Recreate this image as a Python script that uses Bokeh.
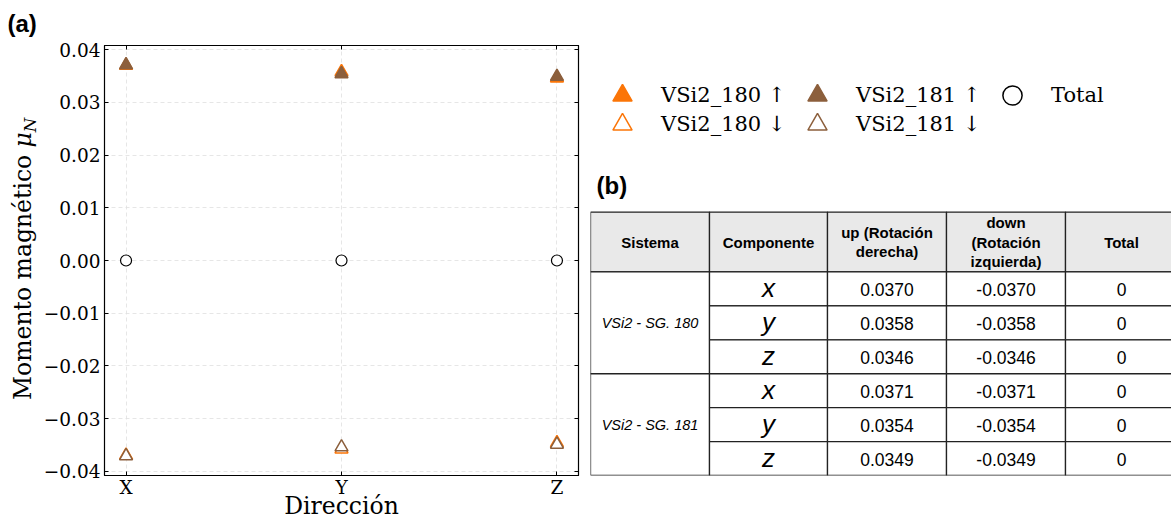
import math

from bokeh.core.properties import value
from bokeh.embed import file_html
from bokeh.layouts import row
from bokeh.models import (ColumnDataSource, CustomJSTickFormatter, FixedTicker,
                          Legend, LegendItem, LinearAxis, Range1d)
from bokeh.plotting import figure
from bokeh.resources import INLINE

# ---- data -------------------------------------------------------------
directions = ["X", "Y", "Z"]
components = ["x", "y", "z"]
systems = ["VSi2 - SG. 180", "VSi2 - SG. 181"]
up_180 = [0.0370, 0.0358, 0.0346]
down_180 = [-0.0370, -0.0358, -0.0346]
up_181 = [0.0371, 0.0354, 0.0349]
down_181 = [-0.0371, -0.0354, -0.0349]
total = [0.0, 0.0, 0.0]
y_ticks = [-0.04, -0.03, -0.02, -0.01, 0.0, 0.01, 0.02, 0.03, 0.04]
header = ["Sistema", "Componente", "up (Rotación\nderecha)",
          "down\n(Rotación\nizquierda)", "Total"]
legend_labels = ["VSi2_180 \u2191", "VSi2_180 \u2193",
                 "VSi2_181 \u2191", "VSi2_181 \u2193", "Total"]

# ---- style ------------------------------------------------------------
ORANGE = "#fb7507"
BROWN = "#8c5f3c"
SERIF = "DejaVu Serif"
SANS = "Liberation Sans"
H = 522
TOP, BOTTOM = 44, 47          # shared frame borders of the row
FT, FB = TOP, H - BOTTOM      # frame top / bottom in page pixels
LAB_W = 40                    # strip holding the y title and "(a)"
NAN = float("nan")


def blank_panel(width, x_end):
    """A figure whose frame maps data units straight onto page pixels."""
    f = figure(width=width, height=H, x_range=Range1d(0, x_end),
               y_range=Range1d(FB, FT), output_backend="svg",
               toolbar_location=None, min_border=0, min_border_top=TOP,
               min_border_bottom=BOTTOM, x_axis_location=None,
               y_axis_location=None)
    f.grid.visible = False
    f.outline_line_color = None
    return f


# ---- y-axis title and panel tag ---------------------------------------
lab = blank_panel(LAB_W, LAB_W)
lab.title.text = "(a)"
lab.title.align = "left"
lab.title.vertical_align = "middle"
lab.title.offset = 7
lab.title.text_font = SANS
lab.title.text_font_size = "24px"
lab.title.text_font_style = "bold"
lab.title.text_color = "black"
lab.title.standoff = 16
lab.text(x=[22], y=[153.5], text=["Momento magnético"], angle=math.pi / 2,
         text_align="right", text_baseline="middle", text_font=value(SERIF),
         text_font_size="23.5px", text_color="black")
lab.text(x=[22], y=[131], text=["μ"], angle=math.pi / 2,
         text_align="right", text_baseline="middle", text_font=value(SERIF),
         text_font_style="italic", text_font_size="23.5px", text_color="black")
lab.text(x=[30], y=[131], text=["N"], angle=math.pi / 2, text_align="left",
         text_baseline="middle", text_font=value(SERIF),
         text_font_style="italic", text_font_size="16.5px", text_color="black")

# ---- (a) scatter panel ------------------------------------------------
xs = list(range(len(directions)))
src = ColumnDataSource(dict(x=xs, up_180=up_180, down_180=down_180,
                            up_181=up_181, down_181=down_181, total=total))

p = figure(width=590 - LAB_W, height=H, x_range=Range1d(-0.1, 2.1),
           y_range=Range1d(-0.0408, 0.0408), output_backend="svg",
           toolbar_location=None, min_border_left=64, min_border_right=12,
           min_border_top=TOP, min_border_bottom=BOTTOM)
p.outline_line_color = "black"
p.outline_line_width = 1.2

p.xaxis.ticker = FixedTicker(ticks=xs, minor_ticks=[])
p.xaxis.major_label_overrides = {i: d for i, d in enumerate(directions)}
p.yaxis.ticker = FixedTicker(ticks=y_ticks, minor_ticks=[])
p.yaxis.formatter = CustomJSTickFormatter(
    code="const s = Math.abs(tick).toFixed(2); return (tick < -1e-9 ? '\\u2212' : '') + s;")

for ax in (p.xaxis[0], p.yaxis[0]):
    ax.major_tick_in = 4
    ax.major_tick_out = 0
    ax.minor_tick_line_color = None
    ax.axis_line_color = "black"
    ax.major_tick_line_color = "black"
    ax.major_label_text_font = SERIF
    ax.major_label_text_font_size = "18.5px"
    ax.major_label_text_color = "black"
    ax.axis_label_text_font = SERIF
    ax.axis_label_text_font_size = "23.5px"
    ax.axis_label_text_font_style = "normal"
    ax.axis_label_text_color = "black"

p.xaxis.major_label_standoff = 1
p.xaxis.axis_label = "Dirección"
p.xaxis.axis_label_standoff = -9
p.yaxis.major_label_standoff = 4

# mirrored inward ticks on the top and right edges
for loc, ticks in (("above", xs), ("right", y_ticks)):
    mirror = LinearAxis(ticker=FixedTicker(ticks=ticks, minor_ticks=[]),
                        formatter=CustomJSTickFormatter(code="return ''"),
                        major_label_standoff=0, major_tick_in=4,
                        major_tick_out=0, minor_tick_line_color=None,
                        axis_line_color="black")
    p.add_layout(mirror, loc)

p.xgrid.ticker = FixedTicker(ticks=xs, minor_ticks=[])
p.ygrid.ticker = FixedTicker(ticks=y_ticks, minor_ticks=[])
p.grid.grid_line_color = "#e0e0e0"
p.grid.grid_line_dash = "4 3"
p.grid.grid_line_width = 0.8

series = [
    ("up_180", dict(fill_color=ORANGE, line_color=ORANGE)),
    ("down_180", dict(fill_color="white", line_color=ORANGE)),
    ("up_181", dict(fill_color=BROWN, line_color=BROWN)),
    ("down_181", dict(fill_color="white", line_color=BROWN)),
]
for col, style in series:
    p.scatter("x", col, source=src, marker="triangle", size=13,
              line_width=1.5, **style)
p.scatter("x", "total", source=src, marker="circle", size=11,
          fill_color="white", line_color="black", line_width=1.2)

# ---- (b) legend + table panel ----------------------------------------
t = blank_panel(581, 581)

proxy_styles = [
    dict(marker="triangle", fill_color=ORANGE, line_color=ORANGE),
    dict(marker="triangle", fill_color="white", line_color=ORANGE),
    dict(marker="triangle", fill_color=BROWN, line_color=BROWN),
    dict(marker="triangle", fill_color="white", line_color=BROWN),
    dict(marker="circle", fill_color="white", line_color="black"),
]
items = []
for lab_text, st in zip(legend_labels, proxy_styles):
    # legend-only renderer: a single NaN point, so nothing lands on the canvas
    r = t.scatter(x=[NAN], y=[NAN], size=20, line_width=1.5, **st)
    items.append(LegendItem(label=lab_text, renderers=[r]))

# Legend keys are sized from the glyph box (40 % of it), so each legend row
# is its own horizontal legend with a tall, transparent box; the rows overlap.
glyph_box, row_pitch, first_row_y = 48, 29, 95
legend_rows = [[items[0], items[2], items[4]], [items[1], items[3]]]
for k, row_items in enumerate(legend_rows):
    row_top = first_row_y + k * row_pitch - glyph_box / 2
    leg = Legend(items=row_items, orientation="horizontal",
                 location=(8, FB - row_top - glyph_box),
                 padding=0, margin=0, spacing=0,
                 glyph_width=glyph_box, glyph_height=glyph_box,
                 label_height=row_pitch, label_width=132, label_standoff=15,
                 label_text_font=SERIF, label_text_font_size="21px",
                 label_text_color="black", border_line_color=None,
                 background_fill_alpha=0)
    t.add_layout(leg)

t.text(x=[6], y=[184], text=["(b)"], text_baseline="middle",
       text_font=value(SANS), text_font_style="bold",
       text_font_size="24px", text_color="black")

col_edges = [0, 119, 237, 356, 475, 590]
header_top, header_bottom, row_h = 211, 271, 34
centers = [(a + b) / 2 for a, b in zip(col_edges[:-1], col_edges[1:])]
centers[-1] = 531

# header cells
t.quad(left=col_edges[:-1], right=col_edges[1:], top=[header_top] * 5,
       bottom=[header_bottom] * 5, fill_color="#e9e9e9", line_color="#222222",
       line_width=1.3)
t.text(x=centers, y=[(header_top + header_bottom) / 2] * 5, text=header,
       text_align="center", text_baseline="middle", text_font=value(SANS),
       text_font_style="bold", text_font_size="15px", text_color="black",
       text_line_height=1.15)

ups = [up_180, up_181]
downs = [down_180, down_181]
cell_l, cell_r, cell_t, cell_b = [], [], [], []
val_x, val_y, val_t = [], [], []
comp_x, comp_y, comp_t = [], [], []
sys_y = []
for g, name in enumerate(systems):
    g_top = header_bottom + g * 3 * row_h
    cell_l.append(col_edges[0]); cell_r.append(col_edges[1])
    cell_t.append(g_top); cell_b.append(g_top + 3 * row_h)
    sys_y.append(g_top + 1.5 * row_h)
    for i, comp in enumerate(components):
        top = g_top + i * row_h
        for c in range(1, 5):
            cell_l.append(col_edges[c]); cell_r.append(col_edges[c + 1])
            cell_t.append(top); cell_b.append(top + row_h)
        cy = top + row_h / 2
        comp_x.append(centers[1]); comp_y.append(cy - 1); comp_t.append(comp)
        tot = round(ups[g][i] + downs[g][i] + total[i], 4)
        for c, txt in ((2, f"{ups[g][i]:.4f}"), (3, f"{downs[g][i]:.4f}"),
                       (4, f"{tot:g}")):
            val_x.append(centers[c]); val_y.append(cy + 1); val_t.append(txt)

t.quad(left=cell_l, right=cell_r, top=cell_t, bottom=cell_b,
       fill_color="white", line_color="#222222", line_width=1.3)
t.text(x=[centers[0]] * len(systems), y=sys_y, text=systems,
       text_align="center", text_baseline="middle", text_font=value(SANS),
       text_font_style="italic", text_font_size="14.5px", text_color="black")
t.text(x=comp_x, y=comp_y, text=comp_t, text_align="center",
       text_baseline="middle", text_font=value(SANS),
       text_font_style="italic", text_font_size="26px", text_color="black")
t.text(x=val_x, y=val_y, text=val_t, text_align="center",
       text_baseline="middle", text_font=value(SANS), text_font_size="17.5px",
       text_color="black")

layout = row(lab, p, t)
open("out.html", "w").write(file_html(layout, INLINE))
